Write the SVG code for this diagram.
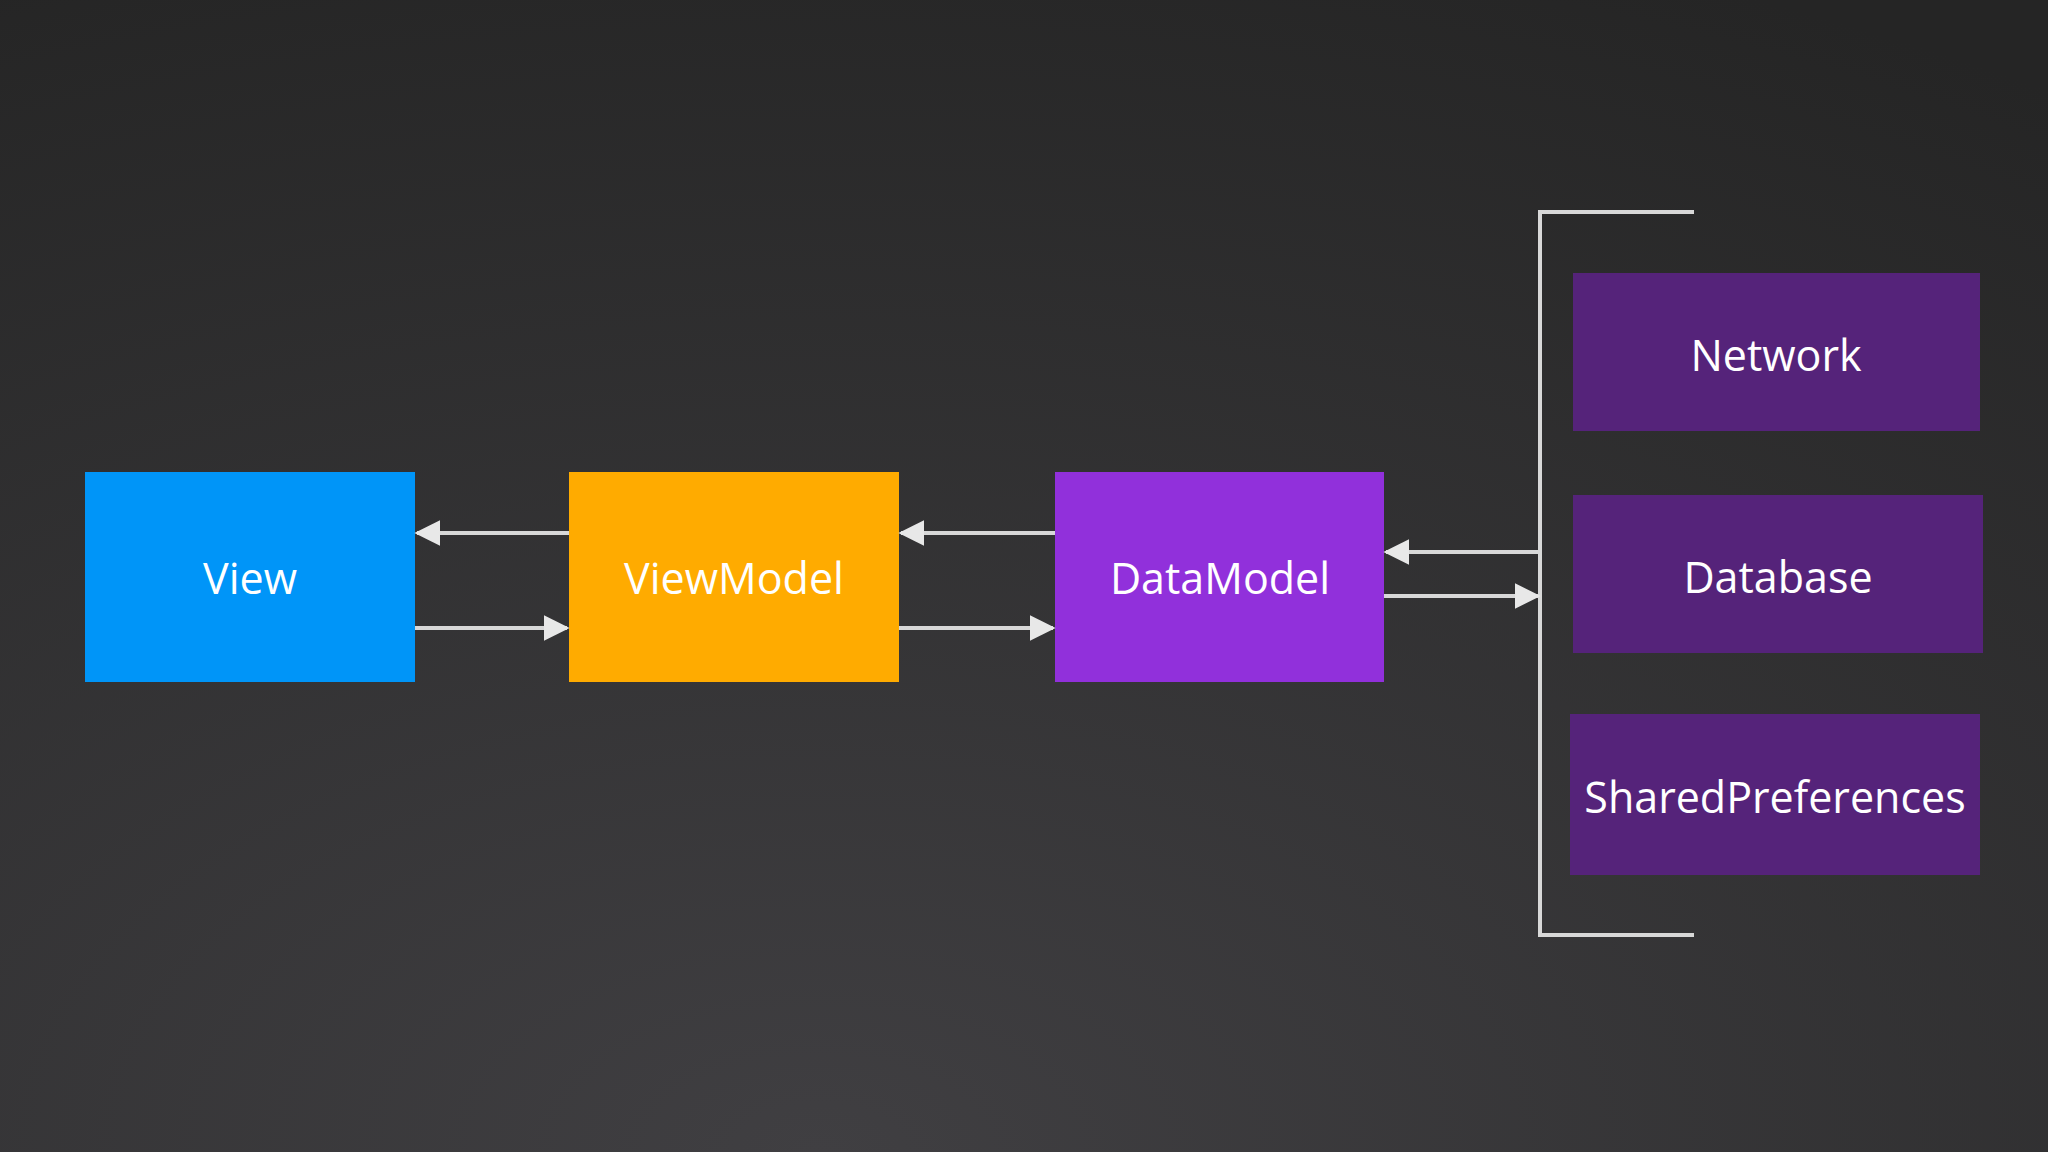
<svg xmlns="http://www.w3.org/2000/svg" width="2048" height="1152" viewBox="0 0 2048 1152">
<defs>
<radialGradient id="bg" cx="0.4" cy="1" r="1.1">
<stop offset="0" stop-color="#403f42"/>
<stop offset="1" stop-color="#252525"/>
</radialGradient>
<marker id="ah" viewBox="0 0 10 10" refX="9" refY="5" markerWidth="6.5" markerHeight="6.5" orient="auto" markerUnits="strokeWidth">
<path d="M0,0 L10,5 L0,10 z" fill="#e8e8e8"/>
</marker>
<style>
.t{font-family:"Open Sans",Lato,sans-serif;font-size:43px;fill:#fff;text-anchor:middle;dominant-baseline:central}
.c{stroke:#d8d8d8;stroke-width:4;fill:none}
.a{marker-end:url(#ah)}
</style>
</defs>
<rect width="2048" height="1152" fill="url(#bg)"/>
<g id="view"><rect x="85" y="472" width="330" height="210" fill="#0095f8"/><text class="t" x="250" y="577">View</text></g>
<g id="viewmodel"><rect x="569" y="472" width="330" height="210" fill="#ffab00"/><text class="t" x="734" y="577">ViewModel</text></g>
<g id="datamodel"><rect x="1055" y="472" width="329" height="210" fill="#9130db"/><text class="t" x="1220" y="577">DataModel</text></g>
<g id="network"><rect x="1573" y="273" width="407" height="158" fill="#55237a"/><text class="t" x="1776" y="354">Network</text></g>
<g id="database"><rect x="1573" y="495" width="410" height="158" fill="#55237a"/><text class="t" x="1778" y="576">Database</text></g>
<g id="sharedpreferences"><rect x="1570" y="714" width="410" height="161" fill="#55237a"/><text class="t" x="1775" y="796">SharedPreferences</text></g>
<g id="connectors">
<path class="c" d="M1694,212 H1540 V935 H1694"/>
<line class="c a" x1="569" y1="533" x2="417" y2="533"/>
<line class="c a" x1="415" y1="628" x2="567" y2="628"/>
<line class="c a" x1="1055" y1="533" x2="901" y2="533"/>
<line class="c a" x1="899" y1="628" x2="1053" y2="628"/>
<line class="c a" x1="1540" y1="552" x2="1386" y2="552"/>
<line class="c a" x1="1384" y1="596" x2="1538" y2="596"/>
</g>
</svg>
